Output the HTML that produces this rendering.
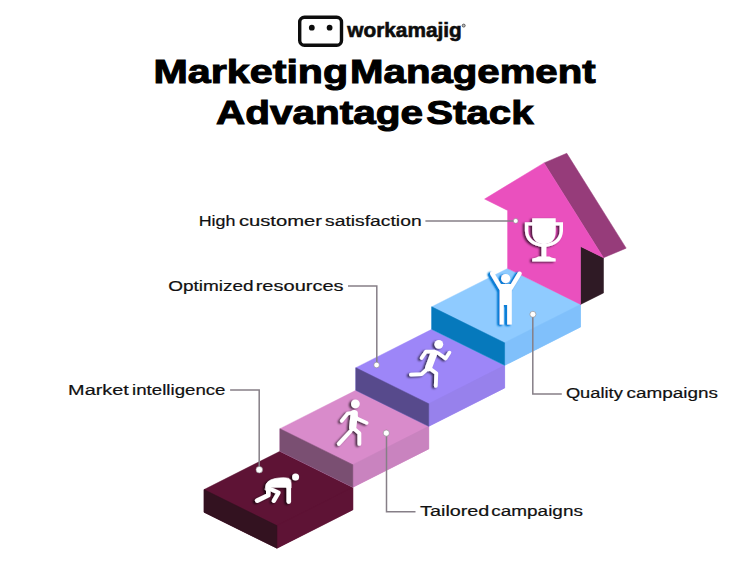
<!DOCTYPE html>
<html><head><meta charset="utf-8">
<style>
html,body{margin:0;padding:0;background:#fff;width:750px;height:562px;overflow:hidden}
svg{display:block}
text{font-family:"Liberation Sans",sans-serif}
</style></head>
<body>
<svg width="750" height="562" viewBox="0 0 750 562">
<defs>
<filter id="sh" x="-50%" y="-50%" width="200%" height="200%">
<feGaussianBlur in="SourceAlpha" stdDeviation="1.2"/>
<feOffset dx="-1.6" dy="1.3" result="b"/>
<feFlood flood-color="#000" flood-opacity="0.7"/>
<feComposite in2="b" operator="in"/>
<feMerge><feMergeNode/><feMergeNode in="SourceGraphic"/></feMerge>
</filter>
<filter id="shb" x="-50%" y="-50%" width="200%" height="200%">
<feGaussianBlur in="SourceAlpha" stdDeviation="0.9"/>
<feOffset dx="-2.3" dy="1.4"/>
<feComponentTransfer result="b"><feFuncA type="linear" slope="1.8"/></feComponentTransfer>
<feFlood flood-color="#0a7fd6" flood-opacity="1"/>
<feComposite in2="b" operator="in"/>
<feMerge><feMergeNode/><feMergeNode in="SourceGraphic"/></feMerge>
</filter>
</defs>

<!-- Logo -->
<rect x="299.7" y="17.2" width="41.8" height="28" rx="4.8" ry="4.8" fill="none" stroke="#0d0d0d" stroke-width="3.4"/>
<circle cx="311.8" cy="27.7" r="2.9" fill="#0d0d0d"/>
<circle cx="329.6" cy="27.7" r="2.9" fill="#0d0d0d"/>
<circle cx="463.7" cy="25.6" r="1.5" fill="#bbb" stroke="#444" stroke-width="0.8"/>

<!-- Title -->

<polygon points="204.00,489.60 279.90,451.25 352.80,487.25 352.80,509.85 276.90,548.20 204.00,512.20" fill="#5e1335" stroke="#5e1335" stroke-width="0.4" stroke-linejoin="round"/>
<polygon points="276.90,525.60 352.80,487.25 352.80,509.85 276.90,548.20" fill="#5e1335" stroke="#5e1335" stroke-width="0.5" stroke-linejoin="round"/>
<polygon points="204.00,489.60 276.90,525.60 276.90,548.20 204.00,512.20" fill="#331220" stroke="#331220" stroke-width="0.5" stroke-linejoin="round"/>
<polygon points="279.90,428.65 355.80,390.30 428.70,426.30 428.70,448.90 352.80,487.25 279.90,451.25" fill="#d98bcb" stroke="#d98bcb" stroke-width="0.4" stroke-linejoin="round"/>
<polygon points="352.80,464.65 428.70,426.30 428.70,448.90 352.80,487.25" fill="#c983bf" stroke="#c983bf" stroke-width="0.5" stroke-linejoin="round"/>
<polygon points="279.90,428.65 352.80,464.65 352.80,487.25 279.90,451.25" fill="#7a4f72" stroke="#7a4f72" stroke-width="0.5" stroke-linejoin="round"/>
<polygon points="355.80,367.70 431.70,329.35 504.60,365.35 504.60,387.95 428.70,426.30 355.80,390.30" fill="#9d86f8" stroke="#9d86f8" stroke-width="0.4" stroke-linejoin="round"/>
<polygon points="428.70,403.70 504.60,365.35 504.60,387.95 428.70,426.30" fill="#9781ec" stroke="#9781ec" stroke-width="0.5" stroke-linejoin="round"/>
<polygon points="355.80,367.70 428.70,403.70 428.70,426.30 355.80,390.30" fill="#574a8c" stroke="#574a8c" stroke-width="0.5" stroke-linejoin="round"/>
<polygon points="431.70,306.75 507.60,268.40 580.50,304.40 580.50,327.00 504.60,365.35 431.70,329.35" fill="#8fcbff" stroke="#8fcbff" stroke-width="0.4" stroke-linejoin="round"/>
<polygon points="504.60,342.75 580.50,304.40 580.50,327.00 504.60,365.35" fill="#80c0fb" stroke="#80c0fb" stroke-width="0.5" stroke-linejoin="round"/>
<polygon points="431.70,306.75 504.60,342.75 504.60,365.35 431.70,329.35" fill="#0679bc" stroke="#0679bc" stroke-width="0.5" stroke-linejoin="round"/>
<polygon points="544.05,162.90 566.75,153.30 626.20,248.16 603.50,257.76" fill="#963c7a" stroke="#963c7a" stroke-width="0.5" stroke-linejoin="round"/>
<polygon points="580.50,246.40 603.50,257.76 603.50,292.93 580.50,304.40" fill="#2f1a25" stroke="#2f1a25" stroke-width="0.5" stroke-linejoin="round"/>
<polygon points="484.60,199.04 544.05,162.90 603.50,257.76 580.50,246.40 580.50,304.40 507.60,268.40 507.60,210.40" fill="#ea50be" stroke="#ea50be" stroke-width="0.5" stroke-linejoin="round"/>
<!-- Icons -->
<g fill="#fff" stroke="#fff" stroke-linecap="round" stroke-linejoin="round" filter="url(#sh)">
 <!-- crouch -->
 <circle cx="295.6" cy="477.1" r="3.5" stroke="none"/>
 <path d="M265.6,486.5 Q266,480.6 275,478.6 Q284,476.9 288.8,478.4 Q291.1,479.6 291.1,483 L291.1,488 L286.5,488 L286.5,487.3 L271,487.3 L271,490 L265.6,490 Z" stroke-width="0.6"/>
 <path d="M288.8,484 V501.6" fill="none" stroke-width="4.6"/>
 <path d="M268.3,486 V495.2 L257.2,500.6" fill="none" stroke-width="4.6"/>
 <path d="M271.6,489.6 L278.6,492.6 L273.8,500.9" fill="none" stroke-width="4.2"/>
</g>
<g fill="#fff" stroke="#fff" stroke-linecap="round" stroke-linejoin="round" filter="url(#sh)">
 <!-- walk -->
 <circle cx="355.4" cy="403.8" r="4.4" stroke="none"/>
 <path d="M354.3,413.5 L352.7,427.5" fill="none" stroke-width="7.2"/>
 <path d="M341.7,420.9 L347.6,413.6 L354,412.5 L357,418.5 L366.7,422.9" fill="none" stroke-width="3.6"/>
 <path d="M350.5,431.2 L338.8,443.9" fill="none" stroke-width="3.8"/>
 <path d="M353.5,428.3 L359.4,433.2 L359.4,443.9" fill="none" stroke-width="3.8"/>
</g>
<g fill="#fff" stroke="#fff" stroke-linecap="round" stroke-linejoin="round" filter="url(#sh)">
 <!-- run -->
 <circle cx="438.8" cy="344.3" r="4.4" stroke="none"/>
 <path d="M421.6,358 L426,351.6 L434.4,351.6 L438.3,353.1 L445.6,358.5 L449.5,352.6" fill="none" stroke-width="3.6"/>
 <path d="M433.8,353.6 L428.6,367.6" fill="none" stroke-width="7"/>
 <path d="M428,368.3 L421.6,374.1 L410.9,374.6" fill="none" stroke-width="3.8"/>
 <path d="M429.5,368.3 L436.3,373.2 L435.8,385.9" fill="none" stroke-width="3.8"/>
</g>
<g fill="#fff" stroke="#fff" stroke-linecap="round" stroke-linejoin="round" filter="url(#shb)">
 <!-- arms up -->
 <circle cx="505.7" cy="278.6" r="4.6" stroke="none"/>
 <path d="M492.2,273.6 L501,288.5 M519.6,273.6 L510.6,288.5" fill="none" stroke-width="4.2"/>
 <path d="M499.7,284.1 H511.8 V324.6 H507.2 V304.9 H503.7 V324.6 H499.7 Z" stroke="none"/>
</g>
<g fill="#fff" filter="url(#sh)">
 <!-- trophy -->
 <path d="M532.2,218.3 H555.7 V231 Q555.7,243.5 543.95,244.2 Q532.2,243.5 532.2,231 Z"/>
 <path d="M533,223.9 H526.6 V231 Q527.2,243.8 543.95,245.6 Q560.7,243.8 561.3,231 V223.9 H555" fill="none" stroke="#fff" stroke-width="3.4"/>
 <rect x="541.5" y="244" width="4.9" height="14.5"/>
 <path d="M532.2,261.4 V258.6 Q536.5,258.3 538.5,256.6 H549.4 Q551.4,258.3 555.7,258.6 V261.4 Z"/>
</g>

<!-- Connector lines -->
<g fill="none" stroke="#867f87" stroke-width="1.5">
 <path d="M425.4,220.9 H515.5"/>
 <path d="M348,285.9 H376.8 V365"/>
 <path d="M230.1,390.1 H259.2 V469.6"/>
 <path d="M532.8,314.2 V394 H561.8"/>
 <path d="M386.5,433.1 V511.8 H415.5"/>
</g>
<g fill="#fff" stroke="#8a868a" stroke-width="0.6">
 <circle cx="515.7" cy="220.9" r="2.4"/>
 <circle cx="376.6" cy="365" r="2.8"/>
 <circle cx="259.3" cy="469.7" r="3.3"/>
 <circle cx="532.9" cy="314.3" r="3.0"/>
 <circle cx="386.3" cy="433.1" r="3.1"/>
</g>
<text transform="translate(347.30,37.40) scale(1.0260,1.0)" font-size="20.3" font-weight="bold" fill="#0d0d0d" stroke="#0d0d0d" stroke-width="0.6">workamajig</text>
<text transform="translate(153.52,83.20) scale(1.2644,1.0)" font-size="32.6" font-weight="bold" fill="#000" stroke="#000" stroke-width="1.0">Marketing</text>
<text transform="translate(350.09,83.20) scale(1.2326,1.0)" font-size="32.6" font-weight="bold" fill="#000" stroke="#000" stroke-width="1.0">Management</text>
<text transform="translate(215.99,123.50) scale(1.2428,1.0)" font-size="32.6" font-weight="bold" fill="#000" stroke="#000" stroke-width="1.0">Advantage</text>
<text transform="translate(426.29,123.50) scale(1.2328,1.0)" font-size="32.6" font-weight="bold" fill="#000" stroke="#000" stroke-width="1.0">Stack</text>
<text transform="translate(198.67,225.60) scale(1.1746,1.0)" font-size="15.2" font-weight="normal" fill="#111" stroke="#111" stroke-width="0.2">High</text>
<text transform="translate(238.89,225.60) scale(1.3304,1.0)" font-size="15.2" font-weight="normal" fill="#111" stroke="#111" stroke-width="0.2">customer</text>
<text transform="translate(325.02,225.60) scale(1.2715,1.0)" font-size="15.2" font-weight="normal" fill="#111" stroke="#111" stroke-width="0.2">satisfaction</text>
<text transform="translate(168.15,290.70) scale(1.2484,1.0)" font-size="15.2" font-weight="normal" fill="#111" stroke="#111" stroke-width="0.2">Optimized</text>
<text transform="translate(255.70,290.70) scale(1.3189,1.0)" font-size="15.2" font-weight="normal" fill="#111" stroke="#111" stroke-width="0.2">resources</text>
<text transform="translate(68.11,394.70) scale(1.3069,1.0)" font-size="15.2" font-weight="normal" fill="#111" stroke="#111" stroke-width="0.2">Market</text>
<text transform="translate(132.09,394.70) scale(1.2297,1.0)" font-size="15.2" font-weight="normal" fill="#111" stroke="#111" stroke-width="0.2">intelligence</text>
<text transform="translate(565.88,398.30) scale(1.2040,1.0)" font-size="15.2" font-weight="normal" fill="#111" stroke="#111" stroke-width="0.2">Quality</text>
<text transform="translate(626.45,398.30) scale(1.2452,1.0)" font-size="15.2" font-weight="normal" fill="#111" stroke="#111" stroke-width="0.2">campaigns</text>
<text transform="translate(420.11,516.30) scale(1.3023,1.0)" font-size="15.2" font-weight="normal" fill="#111" stroke="#111" stroke-width="0.2">Tailored</text>
<text transform="translate(491.25,516.30) scale(1.2480,1.0)" font-size="15.2" font-weight="normal" fill="#111" stroke="#111" stroke-width="0.2">campaigns</text>
</svg>
</body></html>
